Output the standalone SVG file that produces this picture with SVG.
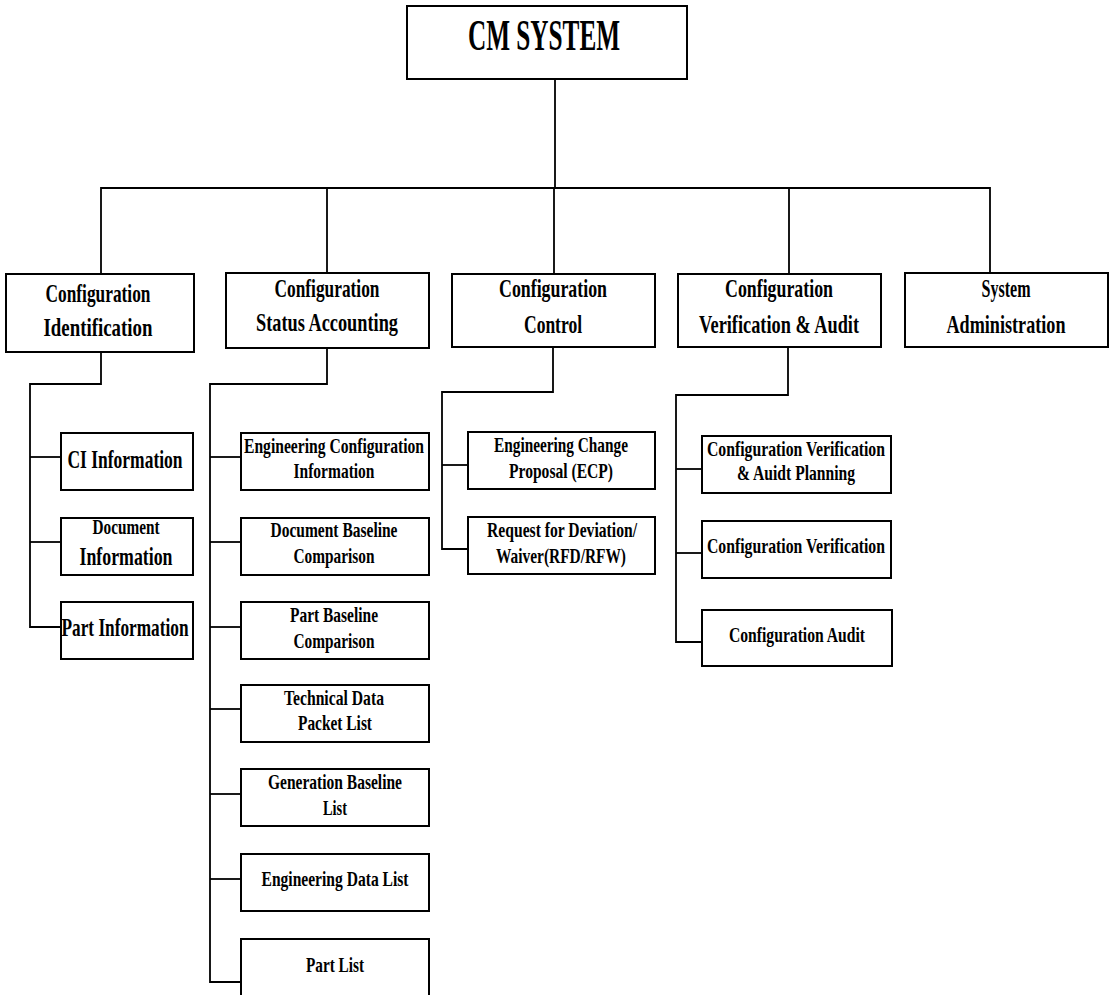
<svg xmlns="http://www.w3.org/2000/svg" width="1111" height="995" viewBox="0 0 1111 995">
  <style>
    .box { fill: #ffffff; stroke: #000000; stroke-width: 2; }
    .wire { fill: none; stroke: #000000; stroke-width: 1.8; }
    text { font-family: "Liberation Serif", "Times New Roman", serif; font-weight: bold; fill: #000000; text-anchor: middle; }
    .t1 { font-size: 25px; }
    .t2 { font-size: 22px; }
    .t3 { font-size: 26px; }
  </style>
  <rect width="1111" height="995" fill="#ffffff"/>

  <!-- connectors -->
  <g id="connectors" class="wire">
    <!-- root to top-level bus -->
    <path d="M555,79 V188"/>
    <path d="M101,274 V188 H990 V273"/>
    <path d="M327,188 V273"/>
    <path d="M554,188 V274"/>
    <path d="M789,188 V274"/>
    <!-- Configuration Identification branch -->
    <path d="M101,352 V384 H30 V627 H61"/>
    <path d="M30,457 H61"/>
    <path d="M30,542 H61"/>
    <!-- Configuration Status Accounting branch -->
    <path d="M327,348 V384 H210 V982 H241"/>
    <path d="M210,457 H241"/>
    <path d="M210,542 H241"/>
    <path d="M210,627 H241"/>
    <path d="M210,709 H241"/>
    <path d="M210,794 H241"/>
    <path d="M210,879 H241"/>
    <!-- Configuration Control branch -->
    <path d="M553,347 V392 H442 V549 H468"/>
    <path d="M442,465 H468"/>
    <!-- Configuration Verification & Audit branch -->
    <path d="M788,347 V395 H676 V642 H702"/>
    <path d="M676,469 H702"/>
    <path d="M676,553 H702"/>
  </g>

  <!-- root -->
  <g id="cm-system">
    <rect class="box" x="407" y="6" width="280" height="73"/>
    <text x="544" y="50" style="font-size:44px" textLength="152" lengthAdjust="spacingAndGlyphs">CM SYSTEM</text>
  </g>

  <!-- top-level functions -->
  <g id="config-identification">
    <rect class="box" x="6" y="274" width="188" height="78"/>
    <text class="t1" x="98" y="302" textLength="105" lengthAdjust="spacingAndGlyphs">Configuration</text>
    <text class="t1" x="98" y="336" textLength="109" lengthAdjust="spacingAndGlyphs">Identification</text>
  </g>
  <g id="config-status-accounting">
    <rect class="box" x="226" y="273" width="203" height="75"/>
    <text class="t1" x="327" y="297" textLength="105" lengthAdjust="spacingAndGlyphs">Configuration</text>
    <text class="t1" x="327" y="331" textLength="142" lengthAdjust="spacingAndGlyphs">Status Accounting</text>
  </g>
  <g id="config-control">
    <rect class="box" x="452" y="274" width="203" height="73"/>
    <text class="t1" x="553" y="297" textLength="108" lengthAdjust="spacingAndGlyphs">Configuration</text>
    <text class="t1" x="553" y="333" textLength="58" lengthAdjust="spacingAndGlyphs">Control</text>
  </g>
  <g id="config-verification-audit">
    <rect class="box" x="678" y="274" width="203" height="73"/>
    <text class="t1" x="779" y="297" textLength="108" lengthAdjust="spacingAndGlyphs">Configuration</text>
    <text class="t1" x="779" y="333" textLength="160" lengthAdjust="spacingAndGlyphs">Verification &amp; Audit</text>
  </g>
  <g id="system-administration">
    <rect class="box" x="905" y="273" width="203" height="74"/>
    <text class="t1" x="1006" y="297" textLength="49" lengthAdjust="spacingAndGlyphs">System</text>
    <text class="t1" x="1006" y="333" textLength="119" lengthAdjust="spacingAndGlyphs">Administration</text>
  </g>

  <!-- Configuration Identification children -->
  <g id="ci-information">
    <rect class="box" x="61" y="433" width="132" height="57"/>
    <text class="t3" x="125" y="468" textLength="115" lengthAdjust="spacingAndGlyphs">CI Information</text>
  </g>
  <g id="document-information">
    <rect class="box" x="61" y="518" width="132" height="57"/>
    <text class="t2" x="126" y="534" textLength="67" lengthAdjust="spacingAndGlyphs">Document</text>
    <text class="t1" x="126" y="565" textLength="93" lengthAdjust="spacingAndGlyphs">Information</text>
  </g>
  <g id="part-information">
    <rect class="box" x="61" y="602" width="132" height="57"/>
    <text class="t3" x="125" y="636" textLength="127" lengthAdjust="spacingAndGlyphs">Part Information</text>
  </g>

  <!-- Configuration Status Accounting children -->
  <g id="engineering-configuration-information">
    <rect class="box" x="241" y="433" width="188" height="57"/>
    <text class="t2" x="334" y="453" textLength="180" lengthAdjust="spacingAndGlyphs">Engineering Configuration</text>
    <text class="t2" x="334" y="478" textLength="81" lengthAdjust="spacingAndGlyphs">Information</text>
  </g>
  <g id="document-baseline-comparison">
    <rect class="box" x="241" y="518" width="188" height="57"/>
    <text class="t2" x="334" y="537" textLength="127" lengthAdjust="spacingAndGlyphs">Document Baseline</text>
    <text class="t2" x="334" y="563" textLength="81" lengthAdjust="spacingAndGlyphs">Comparison</text>
  </g>
  <g id="part-baseline-comparison">
    <rect class="box" x="241" y="602" width="188" height="57"/>
    <text class="t2" x="334" y="622" textLength="88" lengthAdjust="spacingAndGlyphs">Part Baseline</text>
    <text class="t2" x="334" y="648" textLength="81" lengthAdjust="spacingAndGlyphs">Comparison</text>
  </g>
  <g id="technical-data-packet-list">
    <rect class="box" x="241" y="685" width="188" height="57"/>
    <text class="t2" x="334" y="705" textLength="100" lengthAdjust="spacingAndGlyphs">Technical Data</text>
    <text class="t2" x="335" y="730" textLength="74" lengthAdjust="spacingAndGlyphs">Packet List</text>
  </g>
  <g id="generation-baseline-list">
    <rect class="box" x="241" y="769" width="188" height="57"/>
    <text class="t2" x="335" y="789" textLength="134" lengthAdjust="spacingAndGlyphs">Generation Baseline</text>
    <text class="t2" x="335" y="815" textLength="24" lengthAdjust="spacingAndGlyphs">List</text>
  </g>
  <g id="engineering-data-list">
    <rect class="box" x="241" y="854" width="188" height="57"/>
    <text class="t2" x="335" y="886" textLength="147" lengthAdjust="spacingAndGlyphs">Engineering Data List</text>
  </g>
  <g id="part-list">
    <rect class="box" x="241" y="939" width="188" height="60"/>
    <text class="t2" x="335" y="972" textLength="58" lengthAdjust="spacingAndGlyphs">Part List</text>
  </g>

  <!-- Configuration Control children -->
  <g id="engineering-change-proposal">
    <rect class="box" x="468" y="432" width="187" height="57"/>
    <text class="t2" x="561" y="452" textLength="134" lengthAdjust="spacingAndGlyphs">Engineering Change</text>
    <text class="t2" x="561" y="478" textLength="104" lengthAdjust="spacingAndGlyphs">Proposal (ECP)</text>
  </g>
  <g id="request-for-deviation-waiver">
    <rect class="box" x="468" y="517" width="187" height="57"/>
    <text class="t2" x="562" y="537" textLength="150" lengthAdjust="spacingAndGlyphs">Request for Deviation/</text>
    <text class="t2" x="561" y="563" textLength="130" lengthAdjust="spacingAndGlyphs">Waiver(RFD/RFW)</text>
  </g>

  <!-- Configuration Verification & Audit children -->
  <g id="verification-audit-planning">
    <rect class="box" x="702" y="436" width="189" height="57"/>
    <text class="t2" x="796" y="456" textLength="178" lengthAdjust="spacingAndGlyphs">Configuration Verification</text>
    <text class="t2" x="796" y="480" textLength="118" lengthAdjust="spacingAndGlyphs">&amp; Auidt Planning</text>
  </g>
  <g id="configuration-verification">
    <rect class="box" x="702" y="521" width="189" height="57"/>
    <text class="t2" x="796" y="553" textLength="178" lengthAdjust="spacingAndGlyphs">Configuration Verification</text>
  </g>
  <g id="configuration-audit">
    <rect class="box" x="702" y="610" width="190" height="56"/>
    <text class="t2" x="797" y="642" textLength="136" lengthAdjust="spacingAndGlyphs">Configuration Audit</text>
  </g>
</svg>
